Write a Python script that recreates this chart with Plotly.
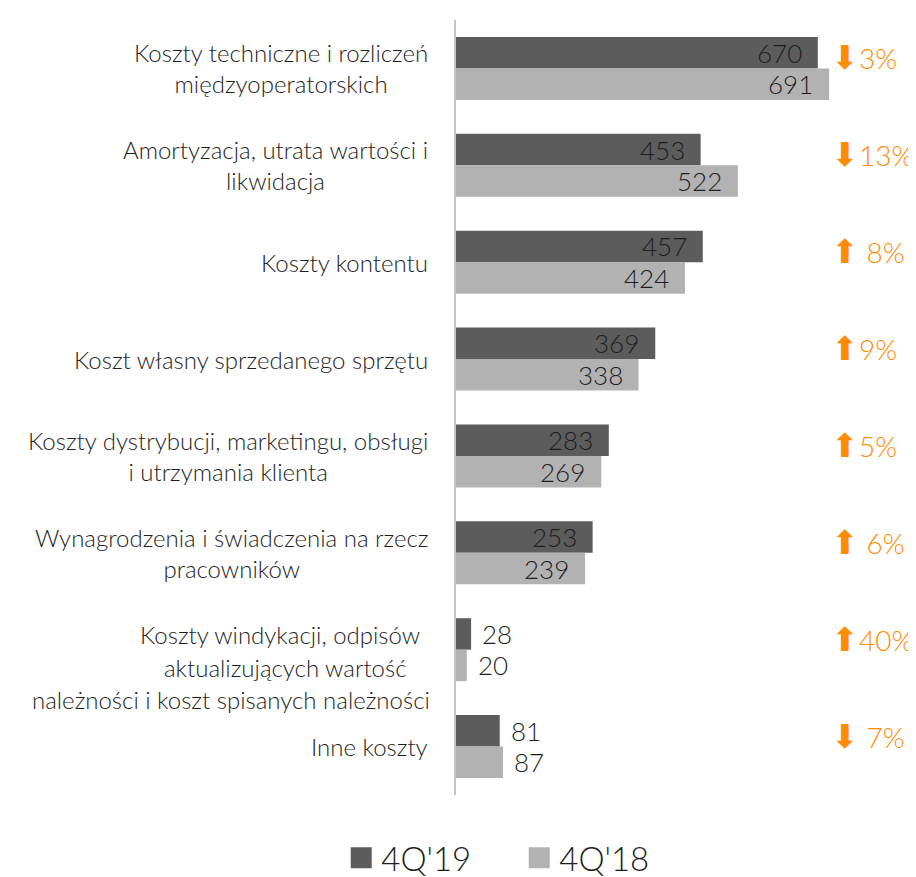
import plotly.graph_objects as go

categories = [
    "Koszty techniczne i rozliczeń<br>międzyoperatorskich",
    "Amortyzacja, utrata wartości i<br>likwidacja",
    "Koszty kontentu",
    "Koszt własny sprzedanego sprzętu",
    "Koszty dystrybucji, marketingu, obsługi<br>i utrzymania klienta",
    "Wynagrodzenia i świadczenia na rzecz<br>pracowników",
    "Koszty windykacji, odpisów<br>aktualizujących wartość<br>należności i koszt spisanych należności",
    "Inne koszty",
]
q419 = [670, 453, 457, 369, 283, 253, 28, 81]
q418 = [691, 522, 424, 338, 269, 239, 20, 87]
change_dir = ["down", "down", "up", "up", "up", "up", "up", "down"]
change_txt = ["3%", "13%", " 8%", "9%", "5%", " 6%", "40%", " 7%"]

FONT = "Lato"
DARK = "#5c5c5c"
LIGHT = "#b2b2b2"
TXT = "#1e1e1e"
ORANGE = "#ff8c00"

# category label placement (pixels): centred blocks right-aligned to axis,
# except the 3-line label whose lines are individually placed
LABEL_RIGHT_SHIFT = -26
special_idx = 6
special_line_xshift = [-176, -171, -225]   # line centres relative to axis
special_line_yshift = [15, -18, -50]

fig = go.Figure()
for name, vals, col in [("4Q'19", q419, DARK), ("4Q'18", q418, LIGHT)]:
    fig.add_trace(go.Bar(
        y=categories, x=vals, orientation="h", name=name,
        marker=dict(color=col, line=dict(width=0)),
        showlegend=False, hoverinfo="x+y",
    ))
# legend proxies
for name, col in [("4Q'19", DARK), ("4Q'18", LIGHT)]:
    fig.add_trace(go.Scatter(
        x=[None], y=[None], mode="markers", name=name,
        marker=dict(symbol="square", size=16, color=col,
                    line=dict(width=5, color=col)),
    ))

bargap = 0.35
half = (1 - bargap) / 4  # centre offset of each bar within a group

annotations = []
label_font = dict(family=FONT, size=24, color=TXT, weight=300)
for i, cat in enumerate(categories):
    if i == special_idx:
        for line, xs, ys in zip(cat.split("<br>"), special_line_xshift, special_line_yshift):
            annotations.append(dict(
                x=0, xref="paper", xanchor="center", xshift=xs,
                y=i, yref="y", yanchor="middle", yshift=ys,
                text=line, showarrow=False, font=label_font,
            ))
    else:
        annotations.append(dict(
            x=0, xref="paper", xanchor="right", xshift=LABEL_RIGHT_SHIFT,
            y=i, yref="y", yanchor="middle",
            text=cat, showarrow=False, align="center", font=label_font,
        ))
# value labels
for vals, off in [(q419, -half), (q418, half)]:
    for i, v in enumerate(vals):
        inside = v > 150
        annotations.append(dict(
            x=v, xref="x", xanchor="right" if inside else "left",
            xshift=-14 if inside else 9,
            y=i + off, yref="y", yanchor="middle",
            text=str(v), showarrow=False,
            font=dict(family=FONT, size=26, color=TXT, weight=300),
        ))
# change labels
for i, (d, t) in enumerate(zip(change_dir, change_txt)):
    arrow = "⬇" if d == "down" else "⬆"
    annotations.append(dict(
        x=1, xref="paper", xanchor="left", xshift=-5,
        y=i, yref="y", yanchor="middle", yshift=12,
        text='<span style="font-size:33px">' + arrow + '</span>' + t,
        showarrow=False, align="left",
        font=dict(family=FONT, size=28, color=ORANGE, weight=300),
    ))

fig.update_layout(
    width=908, height=869,
    margin=dict(l=448, r=82, t=12, b=82),
    paper_bgcolor="white", plot_bgcolor="white",
    barmode="group", bargap=bargap, bargroupgap=0,
    xaxis=dict(range=[0, 700], visible=False, fixedrange=True),
    yaxis=dict(autorange="reversed", showticklabels=False, ticks="",
               showline=True, linecolor="#c4c4c4", linewidth=2,
               showgrid=False, zeroline=False),
    legend=dict(orientation="h", xref="container", x=0.367, xanchor="left",
                yref="container", y=0.022, yanchor="middle",
                font=dict(family=FONT, size=33, color=TXT, weight=300),
                itemsizing="trace", itemwidth=30, tracegroupgap=0,
                entrywidth=133, entrywidthmode="pixels"),
    annotations=annotations,
)
fig.write_html("out.html")
